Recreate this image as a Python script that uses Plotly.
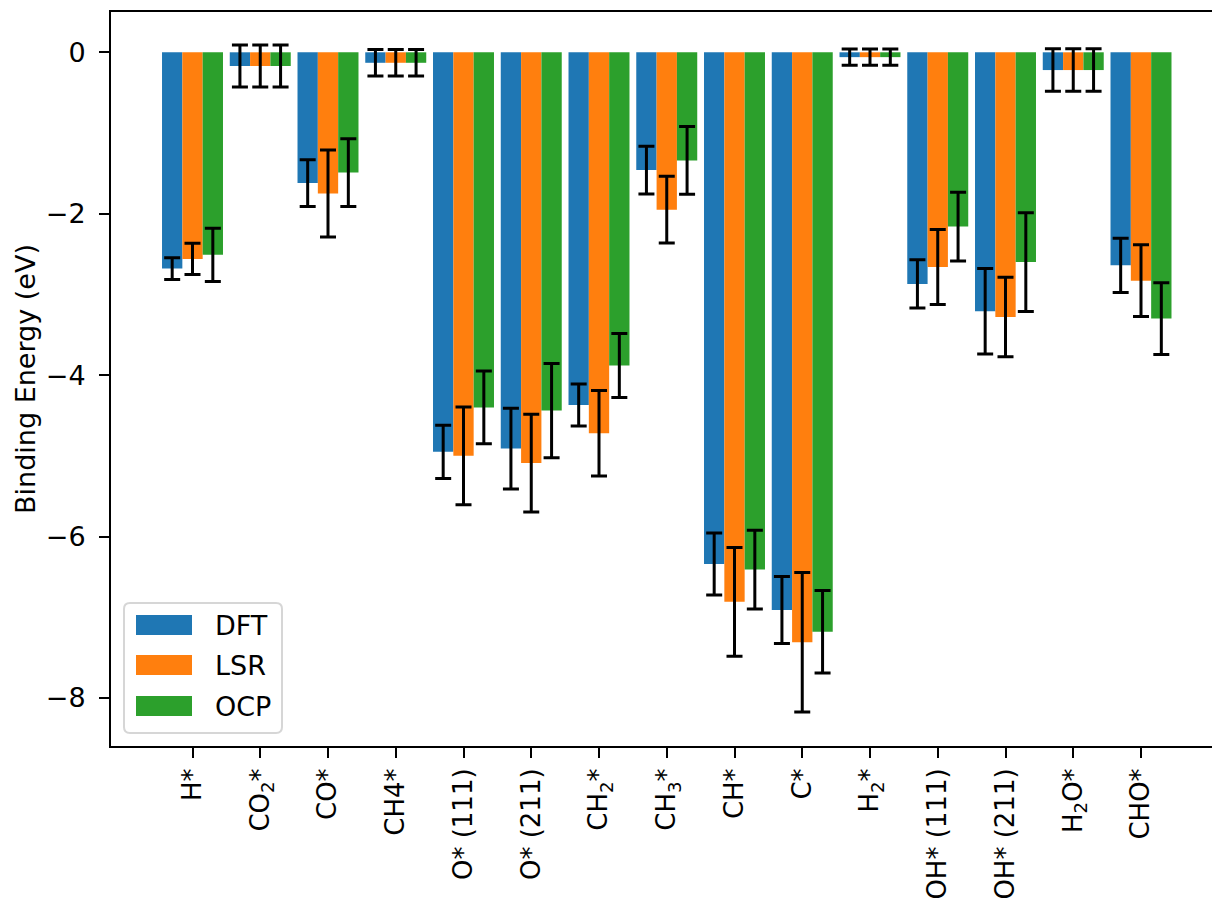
import plotly.graph_objects as go

categories = ["H*", "CO<sub>2</sub>*", "CO*", "CH4*", "O* (111)", "O* (211)",
              "CH<sub>2</sub>*", "CH<sub>3</sub>*", "CH*", "C*", "H<sub>2</sub>*",
              "OH* (111)", "OH* (211)", "H<sub>2</sub>O*", "CHO*"]

dft = [-2.68, -0.17, -1.62, -0.13, -4.95, -4.91, -4.37, -1.46, -6.34, -6.91, -0.06, -2.87, -3.21, -0.22, -2.64]
dft_err = [0.134, 0.26, 0.29, 0.165, 0.33, 0.50, 0.26, 0.295, 0.384, 0.415, 0.10, 0.30, 0.53, 0.264, 0.335]
lsr = [-2.56, -0.17, -1.75, -0.13, -5.00, -5.09, -4.72, -1.95, -6.81, -7.31, -0.06, -2.66, -3.28, -0.22, -2.83]
lsr_err = [0.194, 0.26, 0.54, 0.165, 0.605, 0.605, 0.53, 0.413, 0.673, 0.865, 0.10, 0.465, 0.494, 0.264, 0.444]
ocp = [-2.51, -0.17, -1.49, -0.13, -4.40, -4.44, -3.88, -1.34, -6.41, -7.18, -0.06, -2.16, -2.60, -0.22, -3.30]
ocp_err = [0.33, 0.26, 0.42, 0.165, 0.45, 0.584, 0.397, 0.42, 0.489, 0.512, 0.10, 0.427, 0.611, 0.264, 0.444]

series_names = ["DFT", "LSR", "OCP"]
colors = ["#1f77b4", "#ff7f0e", "#2ca02c"]
y_ticks = [0, -2, -4, -6, -8]

FONT = "DejaVu Sans"
FS = 27
W, H = 1212, 905
L, R, T, B = 111, 0, 12, 159

x = list(range(len(categories)))
fig = go.Figure()
for name, vals, errs, col in zip(series_names, [dft, lsr, ocp], [dft_err, lsr_err, ocp_err], colors):
    fig.add_trace(go.Bar(
        x=x, y=vals, name=name, marker=dict(color=col, line=dict(width=0)),
        error_y=dict(type="data", array=errs, color="black", thickness=3, width=8),
        showlegend=False,
    ))

fig.update_layout(
    width=W, height=H,
    margin=dict(l=L, r=R, t=T, b=B, pad=0, autoexpand=False),
    paper_bgcolor="white", plot_bgcolor="white",
    barmode="group", bargap=0.1, bargroupgap=0,
    font=dict(family=FONT, size=FS, color="black"),
    xaxis=dict(
        range=[-1.203, 15.048], tickmode="array", tickvals=x, ticktext=categories,
        tickangle=-90, ticks="outside", ticklen=10, tickwidth=2, tickcolor="black",
        showline=True, linewidth=2, linecolor="black", mirror=True,
        showgrid=False, zeroline=False, ticklabelstandoff=0, automargin=False,
        tickfont=dict(size=26),
    ),
    yaxis=dict(
        range=[-8.596, 0.4994], tickmode="array", tickvals=y_ticks,
        ticktext=["0", "\u22122", "\u22124", "\u22126", "\u22128"],
        ticks="outside", ticklen=10, tickwidth=2, tickcolor="black",
        showline=True, linewidth=2, linecolor="black", mirror=False,
        showgrid=False, zeroline=False, ticklabelstandoff=8, automargin=False,
        title=dict(text="Binding Energy (eV)", standoff=2, font=dict(size=FS)),
    ),
)

# custom matplotlib-style legend
pw, ph = W - L - R, H - T - B
def px(xp):
    return (xp - L) / pw
def py(yp):
    return (H - B - yp) / ph

bx0, bx1, by0, by1, rad = 124, 282, 603, 733, 6
path = (f"M{px(bx0+rad)},{py(by0)} L{px(bx1-rad)},{py(by0)} Q{px(bx1)},{py(by0)} {px(bx1)},{py(by0+rad)} "
        f"L{px(bx1)},{py(by1-rad)} Q{px(bx1)},{py(by1)} {px(bx1-rad)},{py(by1)} "
        f"L{px(bx0+rad)},{py(by1)} Q{px(bx0)},{py(by1)} {px(bx0)},{py(by1-rad)} "
        f"L{px(bx0)},{py(by0+rad)} Q{px(bx0)},{py(by0)} {px(bx0+rad)},{py(by0)} Z")
fig.add_shape(type="path", path=path, xref="paper", yref="paper",
              fillcolor="rgba(255,255,255,0.8)", line=dict(color="#d6d6d6", width=2), layer="above")
centers = [625, 665, 706]
for name, col, cy in zip(series_names, colors, centers):
    fig.add_shape(type="rect", xref="paper", yref="paper",
                  x0=px(136), x1=px(192), y0=py(cy - 10), y1=py(cy + 10),
                  fillcolor=col, line=dict(width=0), layer="above")
    fig.add_annotation(x=px(213), y=py(cy), xref="paper", yref="paper", text=name,
                       showarrow=False, xanchor="left", yanchor="middle",
                       font=dict(family=FONT, size=FS, color="black"))

fig.write_html("out.html")
